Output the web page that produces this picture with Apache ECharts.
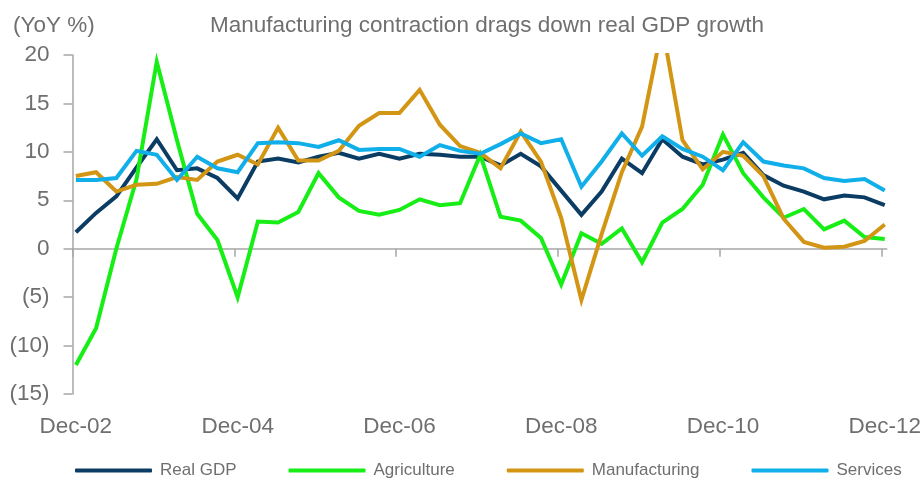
<!DOCTYPE html>
<html>
<head>
<meta charset="utf-8">
<script src="https://cdn.jsdelivr.net/npm/echarts@6/dist/echarts.min.js"></script>
<style>
  html, body { margin: 0; padding: 0; background: #ffffff; }
  #chart { width: 924px; height: 480px; }
</style>
</head>
<body>
<div id="chart"></div>
<script>
// Quarterly YoY growth, Dec-02 .. Dec-12 (41 quarters)
const quarterLabels = [
  'Dec-02','Mar-03','Jun-03','Sep-03','Dec-03','Mar-04','Jun-04','Sep-04',
  'Dec-04','Mar-05','Jun-05','Sep-05','Dec-05','Mar-06','Jun-06','Sep-06',
  'Dec-06','Mar-07','Jun-07','Sep-07','Dec-07','Mar-08','Jun-08','Sep-08',
  'Dec-08','Mar-09','Jun-09','Sep-09','Dec-09','Mar-10','Jun-10','Sep-10',
  'Dec-10','Mar-11','Jun-11','Sep-11','Dec-11','Mar-12','Jun-12','Sep-12',
  'Dec-12'
];
const tickLabels = ['Dec-02', 'Dec-04', 'Dec-06', 'Dec-08', 'Dec-10', 'Dec-12'];

const realGDP = [
  1.7, 3.7, 5.4, 8.4, 11.3, 8.1, 8.3, 7.3,
  5.2, 9.0, 9.3, 8.9, 9.5, 9.9, 9.3, 9.8,
  9.3, 9.8, 9.7, 9.5, 9.5, 8.6, 9.8, 8.5,
  6.0, 3.5, 5.9, 9.3, 7.8, 11.3, 9.5, 8.7,
  9.2, 9.9, 7.6, 6.5, 5.9, 5.1, 5.5, 5.3,
  4.5
];
const agriculture = [
  -12.0, -8.2, 0.0, 7.2, 19.3, 11.2, 3.6, 0.9,
  -5.0, 2.8, 2.7, 3.8, 7.8, 5.3, 3.9, 3.5,
  4.0, 5.1, 4.5, 4.7, 9.7, 3.3, 2.9, 1.1,
  -3.7, 1.6, 0.5, 2.1, -1.4, 2.7, 4.1, 6.6,
  11.8, 7.8, 5.3, 3.2, 4.1, 2.0, 2.9, 1.2,
  1.0
];
const manufacturing = [
  7.5, 7.9, 5.9, 6.6, 6.7, 7.4, 7.1, 9.0,
  9.7, 8.7, 12.5, 9.1, 9.1, 10.1, 12.7, 14.0,
  14.0, 16.4, 12.8, 10.6, 9.9, 8.3, 12.1, 9.0,
  3.2, -5.3, 1.5, 7.9, 12.6, 23.0, 11.2, 8.2,
  10.0, 9.6, 7.5, 3.1, 0.7, 0.1, 0.2, 0.8,
  2.5
];
const services = [
  7.1, 7.1, 7.3, 10.1, 9.7, 7.1, 9.5, 8.3,
  7.9, 10.9, 11.0, 10.9, 10.5, 11.2, 10.2, 10.3,
  10.3, 9.5, 10.7, 10.1, 9.8, 10.8, 11.9, 10.9,
  11.3, 6.4, 9.0, 11.9, 9.6, 11.6, 10.3, 9.5,
  8.1, 11.0, 9.0, 8.6, 8.3, 7.3, 7.0, 7.2,
  6.0
];

const seriesNames = ['Real GDP', 'Agriculture', 'Manufacturing', 'Services'];
const seriesColors = ['#0b3c64', '#16ee16', '#d39514', '#10afe9'];
const seriesValues = [realGDP, agriculture, manufacturing, services];

// The x axis counts months from the start of Dec-02; each quarter's value
// sits in the middle of its closing month, ticks mark the start of December.
const MONTHS_PER_QUARTER = 3;
const quarterPos = (i) => MONTHS_PER_QUARTER * i + 0.5;
const tickPos = tickLabels.map((_, k) => 24 * k);
const labelPos = tickLabels.map((_, k) => 24 * k + 0.5);

const textGrey = '#6f6f6f';
const axisGrey = '#a6a6a6';
const fontFamily = '"Liberation Sans", Arial, sans-serif';

const chart = echarts.init(document.getElementById('chart'), null, { renderer: 'canvas' });

chart.setOption({
  animation: false,
  backgroundColor: '#ffffff',
  title: [
    {
      text: 'Manufacturing contraction drags down real GDP growth',
      left: 210, top: 14, padding: 0,
      textStyle: { fontFamily, fontSize: 22.5, fontWeight: 'normal', color: textGrey }
    },
    {
      text: '(YoY %)',
      left: 13, top: 14, padding: 0,
      textStyle: { fontFamily, fontSize: 22.5, fontWeight: 'normal', color: textGrey }
    }
  ],
  legend: {
    data: seriesNames.map((name) => ({ name, icon: 'roundRect' })),
    left: 75, top: 462, padding: 0,
    itemWidth: 77, itemHeight: 4, itemGap: 52,
    textStyle: { fontFamily, fontSize: 17, color: textGrey, padding: [0, 0, 0, 3] }
  },
  grid: { left: 72.5, right: 37, top: 55, bottom: 86, containLabel: false },
  xAxis: [
    {
      type: 'value',
      min: 0, max: 120.8,
      position: 'bottom',
      axisLine: { show: true, onZero: true, lineStyle: { color: axisGrey, width: 1.5 } },
      axisTick: { show: true, inside: false, length: 8, customValues: tickPos,
                  lineStyle: { color: axisGrey, width: 1.5 } },
      axisLabel: { show: false },
      splitLine: { show: false }
    },
    {
      type: 'value',
      min: 0, max: 120.8,
      position: 'bottom',
      axisLine: { show: false, onZero: false },
      axisTick: { show: false },
      splitLine: { show: false },
      axisLabel: {
        show: true,
        customValues: labelPos,
        margin: 21,
        fontFamily, fontSize: 22.5, color: textGrey,
        formatter: (v) => tickLabels[Math.round((v - 0.5) / 24)]
      }
    }
  ],
  yAxis: {
    type: 'value',
    min: -15, max: 20, interval: 5,
    axisLine: { show: true, onZero: false, lineStyle: { color: axisGrey, width: 1.5 } },
    axisTick: { show: true, inside: false, length: 9, lineStyle: { color: axisGrey, width: 1.5 } },
    splitLine: { show: false },
    axisLabel: {
      margin: 23,
      fontFamily, fontSize: 22.5, color: textGrey,
      formatter: (v) => (v < 0 ? '(' + (-v) + ')' : String(v))
    }
  },
  series: seriesNames.map((name, s) => ({
    name,
    type: 'line',
    xAxisIndex: 0,
    symbol: 'none',
    clip: true,
    color: seriesColors[s],
    lineStyle: { color: seriesColors[s], width: 4, join: 'miter' },
    data: seriesValues[s].map((v, i) => [quarterPos(i), v])
  }))
});
</script>
</body>
</html>
